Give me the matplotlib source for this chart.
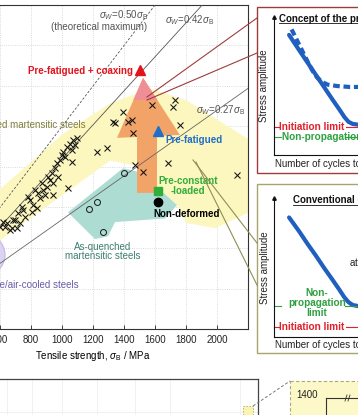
import matplotlib
matplotlib.use("Agg")
import matplotlib.pyplot as plt
from matplotlib.patches import Polygon, Ellipse, Rectangle
import numpy as np

plt.rcParams['font.family'] = ['Liberation Sans', 'DejaVu Sans']
plt.rcParams['mathtext.fontset'] = 'custom'
plt.rcParams['mathtext.rm'] = 'Liberation Sans'
plt.rcParams['mathtext.it'] = 'Liberation Sans:italic'
plt.rcParams['mathtext.bf'] = 'Liberation Sans:bold'

# ---------------- data (MPa) ----------------
qt_tensile = [643, 686, 708, 718, 740, 761, 794, 815, 837, 847, 858, 879, 901, 923, 933,
              944, 955, 966, 976, 987, 998, 1008, 1019, 1030, 1052, 1062, 1073, 1084, 1095,
              632, 675, 729, 750, 783, 826, 869, 912, 890, 804, 600, 621, 665, 697,
              1224, 1288, 1062, 1041, 944, 1471, 1525, 1686, 2127, 1395, 1331, 1342, 1428,
              1450, 1460, 1579, 1729, 1718, 1761]
qt_fatigue = [261, 269, 249, 286, 302, 277, 319, 306, 298, 335, 323, 343, 351, 368, 384,
              360, 397, 409, 376, 417, 430, 438, 425, 450, 458, 442, 467, 454, 471,
              253, 249, 261, 294, 327, 343, 360, 376, 331, 290, 253, 265, 244, 269,
              438, 446, 413, 347, 331, 405, 388, 409, 380, 537, 512, 508, 512,
              516, 483, 553, 565, 549, 504]
aq_tensile = [1400, 1224, 1176, 1262]
aq_fatigue = [384, 313, 296, 240]
nondeformed = (1617, 314)
preconstant = (1617, 341)
prefatigued = (1621, 490)
coaxing = (1503, 640)
ratios = [0.50, 0.42, 0.27]
xticks = [200, 400, 600, 800, 1000, 1200, 1400, 1600, 1800, 2000]

qt_region = [(342, 150), (342, 250), (600, 345), (1000, 480), (1310, 557), (1568, 594),
             (1806, 564), (2213, 466), (2213, 289), (1987, 249), (1800, 262), (1742, 306),
             (1632, 344), (1471, 404), (1310, 416), (600, 219)]
aq_region = [(1039, 288), (1394, 397), (1503, 387), (1632, 344), (1742, 306), (1665, 273),
             (1342, 264), (1297, 229), (1213, 222)]
arrow_shape = [(1523, 620), (1355, 472), (1484, 474), (1484, 336), (1613, 336),
               (1613, 477), (1761, 479)]
arrow_tip = [(1523, 620), (1460, 565), (1616, 565)]
fp_region = dict(center=(471, 183), width=323, height=111)

# schematic S-N curves (arbitrary units)
sn_cycles = [1.8, 3.0, 4.0, 5.0, 6.0, 7.0, 7.8, 8.4, 8.9, 9.4, 10.0, 10.5]
sn_solid1 = [8.7, 7.6, 6.7, 5.8, 4.9, 4.0, 3.3, 2.75, 2.4, 2.25, 2.2, 2.2]
sn_dash_cycles = [2.1, 3.0, 3.9, 4.6, 5.1, 5.7, 6.4, 7.5, 9.0, 10.5]
sn_dash = [9.1, 8.0, 6.9, 6.1, 5.65, 5.3, 5.1, 5.0, 4.93, 4.93]
sn_solid2 = [8.6, 7.6, 6.7, 5.85, 4.95, 4.1, 3.4, 2.85, 2.5, 2.3, 2.23, 2.23]
init_limit1, nonprop_limit1 = 2.03, 1.30
init_limit2, nonprop_limit2 = 0.72, 2.23

FS = 7.0

# ---------------- figure ----------------
W, H = 358, 415
fig = plt.figure(figsize=(W / 100, H / 100), dpi=100)


def rect(x0, y0, x1, y1):
    return [x0 / W, 1 - y1 / H, (x1 - x0) / W, (y1 - y0) / H]


ax = fig.add_axes(rect(-62, 5, 248, 329), zorder=1)
ax.set_xlim(200, 2200)
ax.set_ylim(0, 800)
ax.set_xticks(xticks)
ax.set_yticks(range(0, 801, 100))
ax.tick_params(direction='in', length=3, width=0.6, labelsize=FS, pad=4.5, colors='#222')
ax.tick_params(axis='y', labelleft=False)
ax.grid(True, ls=':', lw=0.6, color='#cfcfcf', zorder=0)
ax.set_axisbelow(True)
for s in ax.spines.values():
    s.set_color('#333')
    s.set_linewidth(0.8)
ax.set_xlabel(r'Tensile strength, $\sigma_\mathrm{B}$ / MPa', fontsize=FS, labelpad=2.5)

ax.add_patch(Ellipse(fp_region['center'], fp_region['width'], fp_region['height'],
                     facecolor='#dcd3f0', edgecolor='#c4b8e6', lw=0.8, zorder=1))
ax.add_patch(Polygon(qt_region, closed=True, facecolor='#fcf6bf', edgecolor='none', zorder=1))
ax.add_patch(Polygon(aq_region, closed=True, facecolor='#acdcd2', edgecolor='none', zorder=1))
ax.add_patch(Polygon(arrow_shape, closed=True, facecolor='#f2a468', edgecolor='none', zorder=2))
ax.add_patch(Polygon(arrow_tip, closed=True, facecolor='#ef8e94', edgecolor='none', zorder=2))

xs = np.array([0, 2200])
ax.plot(xs, ratios[0] * xs, color='#555', lw=0.6, ls=(0, (3, 2)), zorder=3)
ax.plot(xs, ratios[1] * xs, color='#555', lw=0.6, zorder=3)
ax.plot(xs, ratios[2] * xs, color='#666', lw=0.6, zorder=3)

ax.plot(qt_tensile, qt_fatigue, 'x', color='#111', ms=5, mew=0.75, zorder=4)
ax.plot(aq_tensile, aq_fatigue, 'o', mfc='none', mec='#222', ms=4.3, mew=0.75, zorder=4)
ax.plot(*nondeformed, 'o', color='black', ms=6, zorder=5)
ax.plot(*preconstant, 's', color='#2fae3a', ms=6, zorder=5)
ax.plot(*prefatigued, '^', color='#1f6fc8', ms=6.5, zorder=5)
ax.plot(*coaxing, '^', color='#e3121b', ms=7, zorder=5)

lab = dict(fontsize=FS, zorder=6)
ax.text(1555, 775, r'$\sigma_W$=0.50$\sigma_\mathrm{B}$', ha='right', va='center', color='#555', **lab)
ax.text(1550, 746, '(theoretical maximum)', ha='right', va='center', color='#555', **lab)
ax.text(1826, 763, r'$\sigma_W$=0.42$\sigma_\mathrm{B}$', ha='center', va='center', color='#555', **lab)
ax.text(2022, 540, r'$\sigma_W$=0.27$\sigma_\mathrm{B}$', ha='center', va='center', color='#555', **lab)
ax.text(1458, 636, 'Pre-fatigued + coaxing', ha='right', va='center', color='#e3121b',
        fontweight='bold', **lab)
ax.text(1665, 467, 'Pre-fatigued', ha='left', va='center', color='#1f6fc8', fontweight='bold', **lab)
ax.text(1813, 353, 'Pre-constant\n-loaded', ha='center', va='center', color='#2fae3a',
        fontweight='bold', linespacing=0.95, **lab)
ax.text(1803, 285, 'Non-deformed', ha='center', va='center', color='black', fontweight='bold', **lab)
ax.text(1265, 191, 'As-quenched\nmartensitic steels', ha='center', va='center', color='#3d7f72',
        linespacing=0.95, **lab)
ax.text(1150, 504, 'Quenched and tempered martensitic steels', ha='right', va='center',
        color='#7f7f3a', **lab)
ax.text(1105, 109, 'Ferrite-pearlite/air-cooled steels', ha='right', va='center',
        color='#6a5aa8', **lab)

# ---------------- bottom partial panel ----------------
axb = fig.add_axes(rect(-10, 379, 258, 445), zorder=1)
axb.set_xlim(0, 268)
axb.set_ylim(66, 0)
axb.set_xticks([17, 42, 72, 107, 145, 180, 250])
axb.set_yticks([33])
axb.tick_params(length=0, labelbottom=False, labelleft=False)
axb.grid(True, ls='-', lw=0.5, color='#ececec')
for s in axb.spines.values():
    s.set_color('#444')
    s.set_linewidth(0.9)

# ---------------- overlay (boxes, connectors) ----------------
ov = fig.add_axes([0, 0, 1, 1], zorder=2)
ov.set_xlim(0, W)
ov.set_ylim(H, 0)
ov.axis('off')
ov.patch.set_alpha(0)

ov.plot([147, 257], [97, 18], color='#9e3c3c', lw=0.8)
ov.plot([147, 257], [100, 53], color='#9e3c3c', lw=0.8)
ov.plot([193, 257], [160, 243], color='#8f8f55', lw=0.8)
ov.plot([196, 257], [162, 285], color='#8f8f55', lw=0.8)

ov.add_patch(Rectangle((257, 7), 120, 166, facecolor='white', edgecolor='#9e3c3c', lw=1.0))
ov.add_patch(Rectangle((257, 184), 120, 169, facecolor='white', edgecolor='#a6a66c', lw=1.0))

ov.text(279, 19, 'Concept of the present study', fontsize=FS, fontweight='bold',
        ha='left', va='center', color='#111')
ov.plot([279, 360], [23.5, 23.5], color='#111', lw=0.6)
ov.text(264, 86, 'Stress amplitude', rotation=90, fontsize=FS, ha='center', va='center', color='#222')
ov.text(275, 164, 'Number of cycles to failure', fontsize=FS, ha='left', va='center', color='#222')

ov.text(293, 200, 'Conventional concept', fontsize=FS, fontweight='bold',
        ha='left', va='center', color='#111')
ov.plot([293, 360], [204.5, 204.5], color='#111', lw=0.6)
ov.text(265, 268, 'Stress amplitude', rotation=90, fontsize=FS, ha='center', va='center', color='#222')
ov.text(275, 345, 'Number of cycles to failure', fontsize=FS, ha='left', va='center', color='#222')
ov.text(349, 262, 'at 10$^7$', fontsize=FS, ha='left', va='center', color='#222')

# zoomed inset at lower right
ov.add_patch(Rectangle((243, 406), 10, 12, facecolor='#fbf3b0', edgecolor='#b8b070', lw=0.6,
                       ls=(0, (2, 1.5))))
ov.plot([253, 290], [406, 381], color='#777', lw=0.7, ls=(0, (3, 2)))
ov.add_patch(Rectangle((290, 381), 90, 50, facecolor='#fdf8c8', edgecolor='#a9a97a', lw=0.8,
                       ls=(0, (3, 2))))
ov.text(318, 395, '1400', fontsize=FS, ha='right', va='center', color='#222')
ov.plot([326, 370], [398, 398], color='#333', lw=0.8)
ov.plot([326, 326], [398, 420], color='#333', lw=0.8)
ov.plot([345, 347], [401, 395], color='#333', lw=0.6)
ov.plot([348, 350], [401, 395], color='#333', lw=0.6)

# ---------------- schematic insets ----------------
def schematic(box, solid, dashed, init_y, nonprop_y, nonprop_lbl, nonprop_xy):
    a = fig.add_axes(rect(*box), zorder=3)
    a.patch.set_alpha(0)
    a.set_xlim(0, 10.5)
    a.set_ylim(0, 10)
    a.set_xticks([])
    a.set_yticks([])
    for k in ('top', 'right'):
        a.spines[k].set_visible(False)
    for k in ('left', 'bottom'):
        a.spines[k].set_color('#111')
        a.spines[k].set_linewidth(0.8)
    a.plot(0, 1, '^', color='#111', ms=2.5, transform=a.transAxes, clip_on=False)
    a.plot(sn_cycles, solid, color='#1f5fbf', lw=3, solid_capstyle='round', clip_on=False)
    if dashed is not None:
        a.plot(sn_dash_cycles, dashed, color='#1f5fbf', lw=3, dashes=(1.6, 0.9), clip_on=False)
    # initiation limit
    a.plot([0, 0.6], [init_y, init_y], color='#e0202a', lw=0.8, clip_on=False)
    a.plot([8.6, 10.5], [init_y, init_y], color='#e0202a', lw=0.8, clip_on=False)
    a.text(0.6, init_y, 'Initiation limit', color='#e0202a', fontsize=7.2, fontweight='bold',
           ha='left', va='center')
    # non-propagation limit
    a.plot([0, 0.8], [nonprop_y, nonprop_y], color='#2fa040', lw=0.8, clip_on=False)
    a.plot([8.5, 10.5], [nonprop_y, nonprop_y], color='#2fa040', lw=0.8, clip_on=False)
    a.text(nonprop_xy[0], nonprop_xy[1], nonprop_lbl, color='#2fa040', fontsize=7.2,
           fontweight='bold', ha=nonprop_xy[2], va='center', linespacing=0.95)
    return a


schematic((274, 17, 362, 155), sn_solid1, sn_dash, init_limit1, nonprop_limit1,
          'Non-propagation limit', (0.9, nonprop_limit1, 'left'))
schematic((274, 198, 362, 337), sn_solid2, None, init_limit2, nonprop_limit2,
          'Non-\npropagation\nlimit', (5.1, 2.45, 'center'))

fig.savefig('out.png', dpi=100)
